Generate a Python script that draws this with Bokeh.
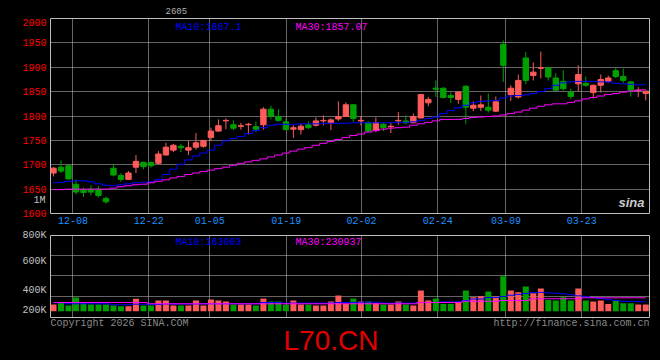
from bokeh.plotting import figure
from bokeh.layouts import column
from bokeh.models import Range1d, FixedTicker, Label, ColumnDataSource
from bokeh.embed import file_html
from bokeh.resources import INLINE

# ---------------- data (daily candles, trading-day index 0..79) ----------------
open_ = [1683, 1695, 1698, 1660, 1648, 1650, 1650, 1631, 1693, 1678,
         1670, 1695, 1705, 1705, 1703, 1720, 1730, 1738, 1730, 1736,
         1738, 1756, 1769, 1790, 1782, 1779, 1782, 1778, 1782, 1814,
         1799, 1788, 1773, 1772, 1782, 1781, 1790, 1786, 1794, 1799,
         1823, 1790, 1786, 1771, 1783, 1778, 1790, 1790, 1786, 1796,
         1827, 1857, 1857, 1842, 1834, 1861, 1816, 1818, 1818, 1810,
         1947, 1844, 1839, 1919, 1883, 1898, 1899, 1878, 1871, 1849,
         1866, 1867, 1848, 1863, 1871, 1893, 1881, 1870, 1852, 1846]
high = [1695, 1709, 1700, 1670, 1653, 1658, 1656, 1635, 1701, 1683,
        1687, 1720, 1706, 1706, 1728, 1745, 1743, 1743, 1749, 1765,
        1751, 1776, 1793, 1795, 1791, 1786, 1786, 1789, 1818, 1821,
        1814, 1795, 1781, 1784, 1789, 1797, 1801, 1795, 1830, 1828,
        1824, 1800, 1789, 1797, 1786, 1786, 1808, 1801, 1805, 1845,
        1839, 1873, 1859, 1849, 1850, 1863, 1830, 1842, 1846, 1840,
        1955, 1863, 1885, 1931, 1910, 1932, 1900, 1888, 1894, 1856,
        1904, 1881, 1865, 1885, 1883, 1900, 1897, 1871, 1859, 1852]
low = [1676, 1683, 1670, 1639, 1634, 1637, 1633, 1620, 1676, 1665,
       1669, 1683, 1691, 1694, 1701, 1719, 1726, 1726, 1720, 1731,
       1735, 1749, 1768, 1773, 1771, 1772, 1762, 1767, 1772, 1793,
       1788, 1772, 1755, 1762, 1773, 1778, 1781, 1771, 1790, 1798,
       1788, 1781, 1768, 1767, 1769, 1765, 1782, 1783, 1785, 1795,
       1820, 1839, 1836, 1827, 1825, 1784, 1810, 1810, 1807, 1808,
       1870, 1831, 1836, 1865, 1873, 1877, 1873, 1851, 1852, 1835,
       1851, 1860, 1836, 1848, 1868, 1878, 1868, 1840, 1839, 1832]
close = [1693, 1687, 1671, 1644, 1643, 1644, 1637, 1624, 1679, 1670,
         1683, 1707, 1696, 1698, 1722, 1736, 1740, 1735, 1735, 1745,
         1750, 1769, 1780, 1791, 1775, 1780, 1783, 1773, 1814, 1800,
         1791, 1772, 1776, 1779, 1776, 1790, 1791, 1792, 1799, 1823,
         1795, 1791, 1769, 1786, 1776, 1779, 1791, 1786, 1799, 1844,
         1834, 1855, 1838, 1838, 1849, 1818, 1822, 1823, 1812, 1829,
         1904, 1857, 1873, 1873, 1890, 1899, 1880, 1853, 1856, 1840,
         1885, 1863, 1863, 1875, 1878, 1881, 1873, 1853, 1853, 1851]
ma10 = [1663, 1664, 1666, 1667, 1667, 1665, 1661, 1658, 1657, 1659,
        1661, 1663, 1664, 1665, 1670, 1680, 1691, 1701, 1710, 1718,
        1724, 1730, 1740, 1749, 1754, 1758, 1764, 1770, 1776, 1781,
        1783, 1783, 1782, 1784, 1784, 1784, 1785, 1785, 1785, 1785,
        1786, 1786, 1786, 1786, 1786, 1786, 1787, 1787, 1788, 1791,
        1795, 1798, 1805, 1811, 1817, 1822, 1827, 1830, 1831, 1832,
        1837, 1841, 1842, 1843, 1846, 1850, 1856, 1863, 1868, 1870,
        1871, 1871, 1871, 1870, 1870, 1867, 1866, 1865, 1864, 1864]
ma30 = [1649, 1649, 1650, 1650, 1650, 1650, 1650, 1650, 1652, 1655,
        1657, 1659, 1660, 1663, 1666, 1669, 1673, 1676, 1680, 1683,
        1686, 1689, 1692, 1695, 1699, 1703, 1706, 1709, 1712, 1716,
        1720, 1724, 1728, 1732, 1735, 1740, 1744, 1748, 1752, 1756,
        1760, 1763, 1767, 1770, 1773, 1775, 1776, 1777, 1781, 1784,
        1787, 1790, 1793, 1793, 1793, 1795, 1797, 1798, 1799, 1800,
        1802, 1805, 1808, 1812, 1816, 1820, 1823, 1825, 1825, 1828,
        1831, 1835, 1838, 1841, 1844, 1846, 1849, 1851, 1853, 1854]
volume_k = [115, 155, 98, 236, 138, 115, 115, 115, 98, 86,
            86, 213, 98, 98, 184, 184, 98, 98, 98, 184,
            98, 201, 184, 167, 115, 115, 115, 98, 218, 167,
            167, 115, 184, 115, 115, 98, 98, 167, 270, 126,
            218, 167, 167, 138, 115, 115, 167, 115, 98, 356,
            184, 218, 126, 126, 155, 356, 241, 259, 339, 253,
            603, 356, 328, 425, 310, 391, 195, 184, 241, 184,
            391, 184, 167, 184, 126, 184, 138, 138, 115, 115]
vol_ma10_k = [145, 145, 128, 128, 128, 128, 128, 128, 110, 110,
              110, 120, 120, 116, 116, 125, 125, 125, 125, 125,
              128, 128, 128, 128, 128, 128, 128, 128, 150, 150,
              150, 140, 140, 140, 140, 140, 140, 140, 150, 150,
              150, 155, 155, 155, 140, 140, 140, 140, 140, 150,
              150, 150, 160, 160, 160, 184, 210, 210, 235, 235,
              253, 275, 290, 305, 320, 325, 317, 310, 300, 285,
              265, 250, 235, 220, 200, 185, 172, 168, 165, 163]
vol_ma30_k = [150, 150, 150, 150, 150, 150, 150, 150, 150, 150,
              150, 150, 150, 128, 128, 128, 128, 128, 128, 128,
              128, 128, 128, 128, 128, 128, 128, 128, 128, 128,
              128, 128, 128, 128, 128, 128, 128, 128, 128, 128,
              128, 128, 128, 128, 128, 128, 128, 128, 128, 150,
              150, 150, 150, 150, 150, 172, 172, 172, 172, 172,
              184, 184, 184, 184, 214, 214, 214, 214, 214, 214,
              214, 231, 231, 231, 231, 231, 231, 231, 231, 231]

date_labels = ["12-08", "12-22", "01-05", "01-19", "02-02", "02-24", "03-09", "03-23"]
date_tick_x = [2.6, 12.7, 20.85, 31.05, 41.1, 51.25, 60.35, 70.45]
price_ticks = [1600, 1650, 1700, 1750, 1800, 1850, 1900, 1950, 2000]
vol_tick_labels = ["800K", "600K", "400K", "200K"]
vol_tick_values = [1304000, 862000, 352000, 7000]
vol_grid_values = [960000, 610000, 259000]

title_code = "2605"
period_text = "1M"
ma_price_text = ["MA10:1867.1", "MA30:1857.07"]
ma_vol_text = ["MA10:163003", "MA30:230937"]
copyright_text = "Copyright 2026 SINA.COM"
url_text = "http://finance.sina.com.cn"
symbol_text = "L70.CN"

# ---------------- styling ----------------
MONO = "Liberation Mono"
BG = "black"
UP = "#ff5b5b"
DOWN = "#00a000"
GRIDC = "#c8c8c8"
FRAMEC = "#bdbdbd"
BLUE = "#0000ff"
MAG = "#ff00ff"

n = len(close)
xs = list(range(n))
colors = [UP if c >= o else DOWN for o, c in zip(open_, close)]
src = ColumnDataSource(dict(
    x=xs, high=high, low=low,
    top=[max(o, c) for o, c in zip(open_, close)],
    bottom=[min(o, c) for o, c in zip(open_, close)],
    color=colors,
    vol=[v * 1000 for v in volume_k],
))

xr = Range1d(-0.4, 79.5)


def style(p):
    p.background_fill_color = BG
    p.border_fill_color = BG
    p.outline_line_color = FRAMEC
    p.outline_line_width = 1
    for ax in p.axis:
        ax.axis_line_color = None
        ax.major_tick_line_color = None
        ax.minor_tick_line_color = None
        ax.major_tick_out = 0
        ax.major_tick_in = 0
        ax.major_label_text_font = MONO
        ax.major_label_text_font_size = "10px"
    for g in p.grid:
        g.grid_line_color = GRIDC
        g.grid_line_dash = "1 1"
        g.grid_line_width = 1


def lab(p, x, y, text, color, size="10px", font=MONO, align="left",
        style_="normal", units="screen"):
    p.add_layout(Label(x=x, y=y, x_units=units, y_units=units, text=text,
                       text_font=font, text_font_size=size, text_color=color,
                       text_align=align, text_baseline="alphabetic",
                       text_font_style=style_))


def blank(h):
    # frame is aligned with the panels' frames (page x 50..649), so the
    # x range is expressed in page pixels
    f = figure(width=660, height=h, x_range=Range1d(50, 649), y_range=Range1d(0, h),
               output_backend="svg", toolbar_location=None,
               min_border_left=50, min_border_right=11,
               min_border_top=0, min_border_bottom=0)
    f.axis.visible = False
    f.grid.visible = False
    f.background_fill_color = BG
    f.border_fill_color = BG
    f.outline_line_color = None
    return f


# ---------------- header ----------------
head = blank(18)
lab(head, 165, 8, title_code, "#b0b0b0", size="9px", units="data")

# ---------------- price panel ----------------
p1 = figure(width=660, height=210, x_range=xr, y_range=Range1d(1600, 2000),
            output_backend="svg", toolbar_location=None,
            min_border_left=50, min_border_right=11, min_border_top=0,
            min_border_bottom=15)
style(p1)
p1.segment(x0="x", y0="low", x1="x", y1="high", line_color="color",
           line_width=1, source=src)
p1.vbar(x="x", width=0.72, top="top", bottom="bottom", fill_color="color",
        line_color="color", line_width=1, source=src)
p1.step(xs, ma10, mode="center", line_color=BLUE, line_width=1)
p1.step(xs, ma30, mode="center", line_color=MAG, line_width=1)

p1.yaxis.ticker = FixedTicker(ticks=price_ticks)
p1.yaxis.major_label_text_color = "#ff0000"
p1.yaxis.major_label_standoff = 4
p1.ygrid.ticker = FixedTicker(ticks=price_ticks[1:-1])
p1.xaxis.ticker = FixedTicker(ticks=date_tick_x)
p1.xaxis.major_label_overrides = {t: s for t, s in zip(date_tick_x, date_labels)}
p1.xaxis.major_label_text_color = "#1e90ff"
p1.xaxis.major_label_standoff = 3
p1.xgrid.ticker = FixedTicker(ticks=date_tick_x)

lab(p1, 125, 186, ma_price_text[0], BLUE)
lab(p1, 245, 186, ma_price_text[1], MAG)
lab(p1, 568, 11, "sina", "#c8c8c8", size="13px", font="Liberation Sans", style_="bold italic")
p1.add_layout(Label(x=38, y=13, x_units="screen", y_units="screen", text=period_text,
                    text_font=MONO, text_font_size="10px", text_color="#c0c0c0",
                    text_align="right", text_baseline="alphabetic"), "left")

# ---------------- volume panel ----------------
p2 = figure(width=660, height=90, x_range=xr, y_range=Range1d(-126000, 1305000),
            output_backend="svg", toolbar_location=None,
            min_border_left=50, min_border_right=11, min_border_top=7,
            min_border_bottom=0)
style(p2)
p2.vbar(x="x", width=0.8, top="vol", bottom=0, fill_color="color",
        line_color=None, source=src)
p2.step(xs, [v * 1000 for v in vol_ma10_k], mode="center", line_color=BLUE, line_width=1)
p2.step(xs, [v * 1000 for v in vol_ma30_k], mode="center", line_color=MAG, line_width=1)
p2.xaxis.visible = False
p2.xgrid.ticker = FixedTicker(ticks=date_tick_x)
p2.ygrid.ticker = FixedTicker(ticks=vol_grid_values)
p2.yaxis.ticker = FixedTicker(ticks=vol_tick_values)
p2.yaxis.major_label_overrides = {t: s for t, s in zip(vol_tick_values, vol_tick_labels)}
p2.yaxis.major_label_text_color = "#c0c0c0"
p2.yaxis.major_label_standoff = 4

lab(p2, 125, 76, ma_vol_text[0], BLUE)
lab(p2, 245, 76, ma_vol_text[1], MAG)

# ---------------- footer ----------------
foot = blank(42)
lab(foot, 50, 37, copyright_text, "#8a8a8a", units="data")
lab(foot, 649, 37, url_text, "#8a8a8a", align="right", units="data")
lab(foot, 283, 20, symbol_text, "#e00000", size="28px", font="Liberation Sans", units="data")

layout = column(head, p1, p2, foot, spacing=0, styles={"background-color": "black"})
open("out.html", "w").write(file_html(layout, INLINE))
